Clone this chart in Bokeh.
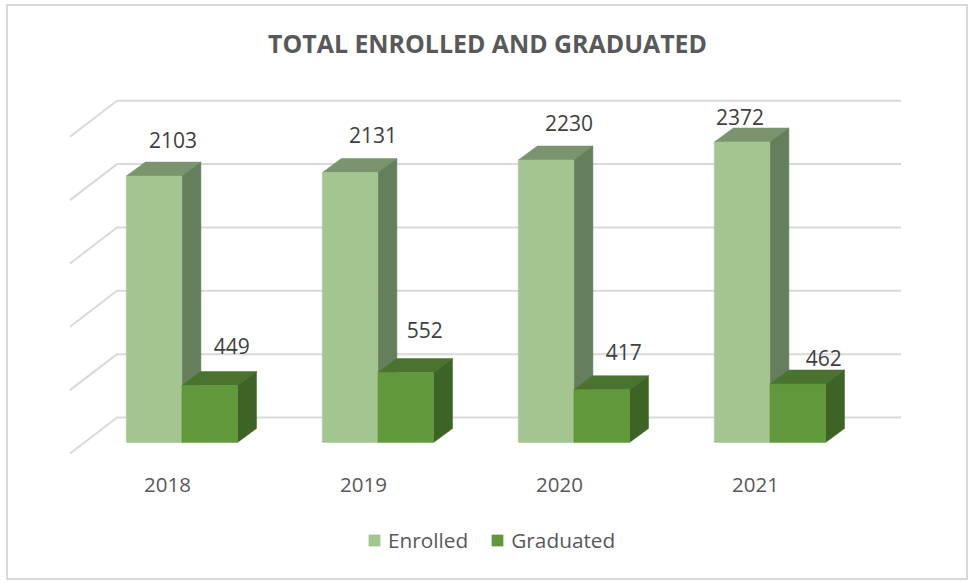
from bokeh.plotting import figure
from bokeh.models import (ColumnDataSource, Range1d, LinearAxis, FixedTicker, Legend, LegendItem)
from bokeh.core.properties import value
from bokeh.embed import file_html
from bokeh.resources import INLINE

# ---- data ----
years = [2018, 2019, 2020, 2021]
enrolled = [2103, 2131, 2230, 2372]
graduated = [449, 552, 417, 462]
grid_ticks = [0, 500, 1000, 1500, 2000, 2500]
title = "TOTAL ENROLLED AND GRADUATED"

# manual label placement of the reference, in px relative to the bar's top-front centre
enrolled_label_dx = [19, 23, 23, -2]
enrolled_label_dy = [-36, -38, -37, -25]
graduated_label_dx = [22, 19, 22, 26]
graduated_label_dy = [-40, -43, -38, -26]

# ---- projection: reference page px, canvas origin, px per data unit, depths ----
OX, OY = 8, 6          # page position of the canvas
W, H = 958, 572
FRAME_TOP = 66 - OY
CAT_PX, CAT0_PX = 196.0, 181.4 - OX
VAL_PX = 0.1267
BASE_PX = 442.0 - OY
AXIS_PX = 469.0 - OY
BAR = 55.6 / CAT_PX
BAR_DX, BAR_DY = 19 / CAT_PX, 14 / VAL_PX
GRID_BACK_DY = 25 / VAL_PX
FLOOR_DX, FLOOR_DY = 47 / CAT_PX, 36 / VAL_PX
GRID_LEFT, GRID_RIGHT = (116.5 - OX - CAT0_PX) / CAT_PX, (900.5 - OX - CAT0_PX) / CAT_PX
LABEL_PX = 167.0 - OX

x_range = Range1d((0 - CAT0_PX) / CAT_PX + 2018, (W - CAT0_PX) / CAT_PX + 2018)
y_range = Range1d((BASE_PX - H) / VAL_PX, (BASE_PX - FRAME_TOP) / VAL_PX)

p = figure(width=W, height=H, x_range=x_range, y_range=y_range, output_backend="svg",
           toolbar_location=None, min_border_left=0, min_border_right=0,
           min_border_top=FRAME_TOP, min_border_bottom=0,
           x_axis_type=None, y_axis_type=None, outline_line_color=None,
           margin=(OY, 0, 0, OX),
           styles={"outline": "2px solid #D9D9D9"})
p.xgrid.visible = False
p.ygrid.visible = False

p.title.text = title
p.title.align = "center"
p.title.text_font = "Open Sans"
p.title.text_font_size = "24.9px"
p.title.text_font_style = "bold"
p.title.text_color = "#595959"
p.title.standoff = 14

GRID = "#D9D9D9"
left = 2018 + GRID_LEFT
right = 2018 + GRID_RIGHT
gx, gy = [], []
for t in grid_ticks:
    yb = t + GRID_BACK_DY
    gx.append([left - FLOOR_DX, left, right])
    gy.append([yb - FLOOR_DY, yb, yb])
p.multi_line(gx, gy, line_color=GRID, line_width=2)


def bars(values, lo, front, top, side):
    x0 = [y + lo for y in years]
    x1 = [a + BAR for a in x0]
    p.patches([[a, b, b + BAR_DX, a + BAR_DX] for a, b in zip(x0, x1)],
              [[v, v, v + BAR_DY, v + BAR_DY] for v in values],
              fill_color=top, line_color=top, line_width=0.5)
    p.patches([[b, b + BAR_DX, b + BAR_DX, b] for b in x1],
              [[0, BAR_DY, v + BAR_DY, v] for v in values],
              fill_color=side, line_color=side, line_width=0.5)
    return p.vbar(x=[a + BAR / 2 for a in x0], width=BAR, bottom=0, top=values,
                  fill_color=front, line_color=front, line_width=0.5)


r1 = bars(enrolled, -BAR, "#A3C590", "#7A956E", "#657E5B")
r2 = bars(graduated, 0, "#62983C", "#4A7330", "#3E6327")

for vals, xs, dxs, dys in [(enrolled, [y - BAR / 2 for y in years], enrolled_label_dx, enrolled_label_dy),
                           (graduated, [y + BAR / 2 for y in years], graduated_label_dx, graduated_label_dy)]:
    src = ColumnDataSource(dict(x=xs, y=vals, t=[str(v) for v in vals], dx=dxs, dy=dys))
    p.text("x", "y", text="t", source=src, x_offset="dx", y_offset="dy", text_align="center",
           text_baseline="middle", text_font=value("Open Sans"), text_font_size="21px",
           text_color="#404040")

p.extra_x_ranges["labels"] = Range1d(2018 - LABEL_PX / CAT_PX, 2018 + (W - LABEL_PX) / CAT_PX)
ax = LinearAxis(x_range_name="labels", ticker=FixedTicker(ticks=years), axis_line_color=None,
                major_tick_line_color=None, minor_tick_line_color=None,
                major_label_text_font="Open Sans", major_label_text_font_size="20.5px",
                major_label_text_color="#595959", major_label_standoff=2,
                fixed_location=(BASE_PX - AXIS_PX) / VAL_PX)
p.add_layout(ax, "below")

legend = Legend(items=[LegendItem(label="Enrolled", renderers=[r1]), LegendItem(label="Graduated", renderers=[r2])],
                orientation="horizontal", location=(367 - OX, 24), border_line_color=None,
                background_fill_alpha=0, glyph_width=14, glyph_height=14,
                label_text_font="Open Sans", label_text_font_size="20.8px", label_text_color="#595959",
                spacing=22, label_standoff=7, margin=0, padding=0)
p.add_layout(legend, "center")

open("out.html", "w").write(file_html(p, INLINE))
